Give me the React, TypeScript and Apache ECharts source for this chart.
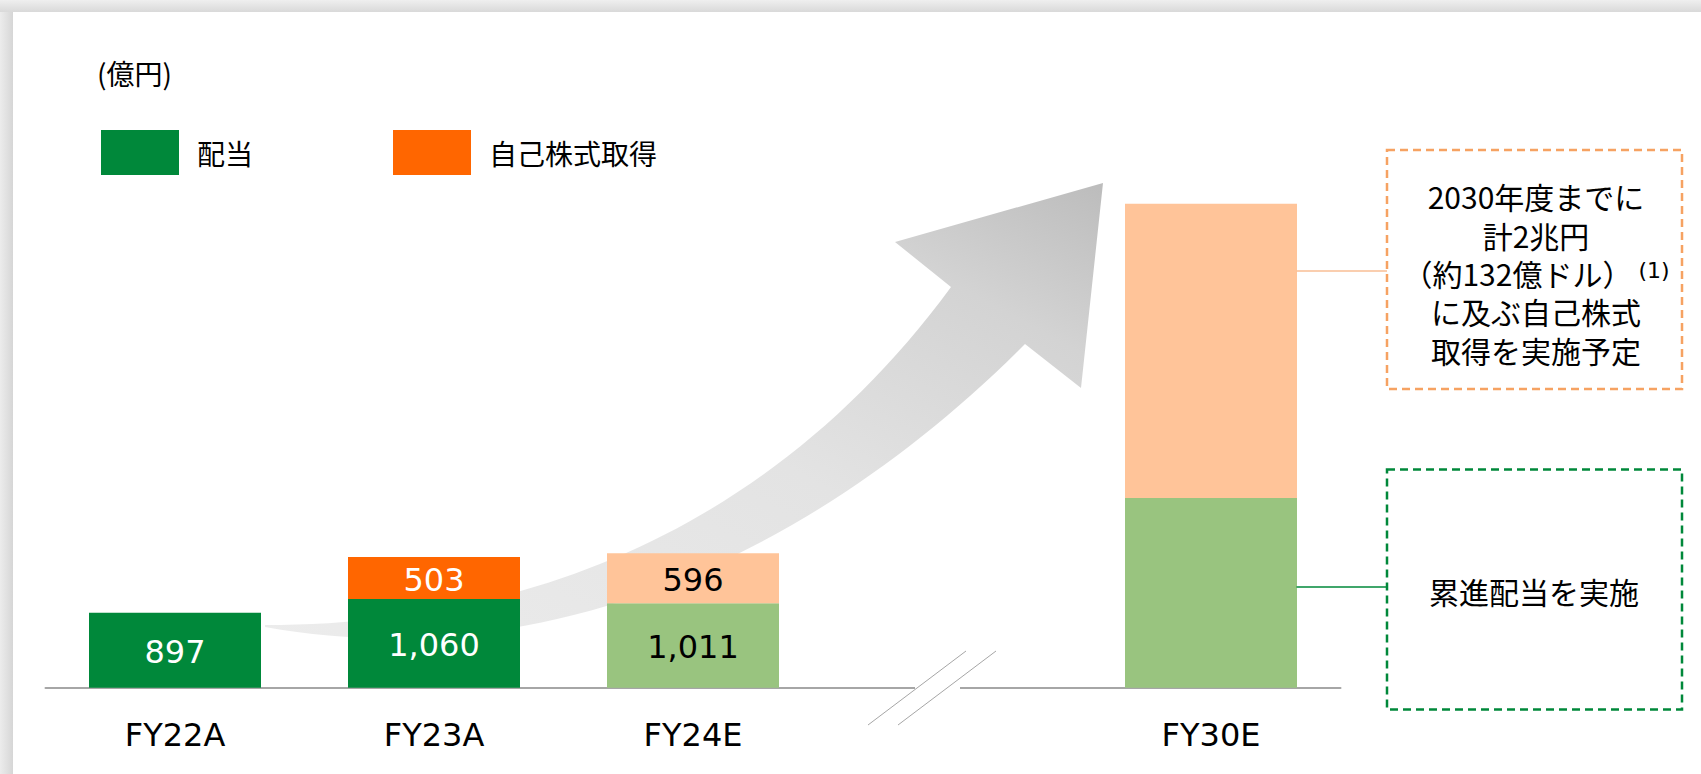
import React, { useEffect, useRef } from "react";
import * as echarts from "echarts";

// ---- data ----
const categories = ["FY22A", "FY23A", "FY24E", "", "FY30E"];
const dividends: (number | null)[] = [897, 1060, 1011, null, 2270];
const buybacks: (number | null)[] = [null, 503, 596, null, 3520];
const seriesNames = ["配当", "自己株式取得"];
const unlabeledCategories = ["FY30E"];
const unitLabel = "(億円)";
const buybackNoteLines = ["2030年度までに", "計2兆円", "（約132億ドル）{sup|(1)}", "に及ぶ自己株式", "取得を実施予定"];
const dividendNote = "累進配当を実施";

// ---- styles ----
const GREEN = "#00883A";
const LIGHT_GREEN = "#99C47F";
const ORANGE = "#FF6600";
const PEACH = "#FFC499";
const LATIN = "'DejaVu Sans', 'Noto Sans CJK JP', sans-serif";
const JP = "'Noto Sans CJK JP', sans-serif";

const ARROW_D =
  "M 265 625 C 540 625 780 520 951 287 L 895 242 L 1103 183 L 1081 388 L 1025 344 C 830 540 560 680 265 627 Z";

let registered = false;
function registerArrow() {
  if (registered) return;
  echarts.graphic.registerShape("growArrow", (echarts.graphic as any).extendPath(ARROW_D, {}));
  registered = true;
}

function buildItems(values: (number | null)[], dark: string, light: string) {
  return values.map((v, i) => {
    const cat = categories[i];
    const estimate = cat.endsWith("E");
    const showLabel = v != null && !unlabeledCategories.includes(cat);
    return {
      value: v,
      itemStyle: { color: estimate ? light : dark },
      label: {
        show: showLabel,
        color: estimate ? "#000000" : "#FFFFFF",
      },
    };
  });
}

export default function App() {
  const ref = useRef<HTMLDivElement>(null);

  useEffect(() => {
    if (!ref.current) return;
    registerArrow();
    const chart = echarts.init(ref.current, null, { renderer: "svg" });

    const barLabel = {
      position: "inside",
      fontSize: 32,
      fontFamily: LATIN,
      offset: [0, 2],
      formatter: (p: any) => Number(p.value).toLocaleString("en-US"),
    };

    const legendBase = {
      top: 130,
      padding: 0,
      itemWidth: 78,
      itemHeight: 45,
      icon: "rect",
      selectedMode: false,
      itemStyle: { borderWidth: 0 },
      textStyle: { fontSize: 28, fontFamily: JP, color: "#000", padding: [0, 0, 0, 13] },
    };

    chart.setOption({
      animation: false,
      backgroundColor: "#FFFFFF",
      legend: [
        { ...legendBase, left: 101, data: [seriesNames[0]] },
        { ...legendBase, left: 393, data: [seriesNames[1]] },
      ],
      grid: {
        left: 45.5,
        right: 360.5,
        top: 186.1,
        bottom: 86.3,
        containLabel: false,
        outerBoundsMode: "none",
      },
      xAxis: {
        type: "category",
        data: categories,
        axisLine: { show: true, lineStyle: { color: "#A6A6A6", width: 2 } },
        axisTick: { show: false },
        axisLabel: { fontSize: 32, fontFamily: LATIN, color: "#000", margin: 31 },
        splitLine: { show: false },
      },
      yAxis: {
        type: "value",
        min: 0,
        max: 6000,
        show: false,
        splitLine: { show: false },
      },
      series: [
        {
          name: seriesNames[0],
          type: "bar",
          stack: "total",
          barWidth: 172,
          color: GREEN,
          label: barLabel,
          data: buildItems(dividends, GREEN, LIGHT_GREEN),
        },
        {
          name: seriesNames[1],
          type: "bar",
          stack: "total",
          barWidth: 172,
          color: ORANGE,
          label: barLabel,
          data: buildItems(buybacks, ORANGE, PEACH),
        },
      ],
      graphic: [
        // frame shadow
        {
          type: "rect",
          z: 20,
          shape: { x: 0, y: 0, width: 1701, height: 12 },
          style: {
            fill: new echarts.graphic.LinearGradient(0, 0, 0, 1, [
              { offset: 0, color: "#EFEFEF" },
              { offset: 1, color: "#D9D9D9" },
            ]),
          },
        },
        {
          type: "rect",
          z: 20,
          shape: { x: 0, y: 12, width: 13, height: 762 },
          style: {
            fill: new echarts.graphic.LinearGradient(0, 0, 1, 0, [
              { offset: 0, color: "#ECECEC" },
              { offset: 1, color: "#D6D6D6" },
            ]),
          },
        },
        // growth arrow (behind bars)
        {
          type: "growArrow",
          z: 1,
          x: 0,
          y: 0,
          style: {
            fill: new echarts.graphic.LinearGradient(0, 1, 1, 0, [
              { offset: 0, color: "#ECECEC" },
              { offset: 0.5, color: "#E3E3E3" },
              { offset: 0.8, color: "#D3D3D3" },
              { offset: 1, color: "#BCBCBC" },
            ]),
          },
        },
        // unit
        {
          type: "text",
          x: 97,
          y: 73,
          style: { text: unitLabel, fontSize: 28, fontFamily: JP, fill: "#000", verticalAlign: "middle" },
        },
        // axis break
        {
          type: "rect",
          z: 10,
          shape: { x: 915, y: 683, width: 45, height: 10 },
          style: { fill: "#FFFFFF" },
        },
        {
          type: "line",
          z: 11,
          shape: { x1: 868, y1: 725, x2: 966, y2: 651 },
          style: { stroke: "#A6A6A6", lineWidth: 1 },
        },
        {
          type: "line",
          z: 11,
          shape: { x1: 898, y1: 725, x2: 996, y2: 651 },
          style: { stroke: "#A6A6A6", lineWidth: 1 },
        },
        // connectors
        {
          type: "line",
          z: 5,
          shape: { x1: 1296.5, y1: 271, x2: 1387, y2: 271 },
          style: { stroke: "#F8BE94", lineWidth: 1.5 },
        },
        {
          type: "line",
          z: 5,
          shape: { x1: 1296.5, y1: 587, x2: 1387, y2: 587 },
          style: { stroke: GREEN, lineWidth: 1.5 },
        },
        // annotation boxes
        {
          type: "rect",
          z: 5,
          shape: { x: 1387, y: 150, width: 295, height: 239 },
          style: { fill: "none", stroke: "#F6A262", lineWidth: 2.5, lineDash: [8, 5] },
        },
        {
          type: "rect",
          z: 5,
          shape: { x: 1387, y: 469.5, width: 295, height: 240 },
          style: { fill: "none", stroke: GREEN, lineWidth: 2.5, lineDash: [8, 5] },
        },
        {
          type: "text",
          z: 6,
          x: 1536,
          y: 273,
          style: {
            text: buybackNoteLines.join("\n"),
            fontSize: 30,
            lineHeight: 38.4,
            fontFamily: JP,
            fill: "#000",
            align: "center",
            verticalAlign: "middle",
            rich: {
              sup: {
                fontSize: 22,
                fontFamily: LATIN,
                fill: "#000",
                verticalAlign: "middle",
                padding: [0, 0, 5, 6],
              },
            },
          },
        },
        {
          type: "text",
          z: 6,
          x: 1534,
          y: 591,
          style: {
            text: dividendNote,
            fontSize: 30,
            fontFamily: JP,
            fill: "#000",
            align: "center",
            verticalAlign: "middle",
          },
        },
      ],
    });

    return () => {
      chart.dispose();
    };
  }, []);

  return (
    <div
      ref={ref}
      style={{ position: "fixed", left: 0, top: 0, width: 1701, height: 774, background: "#fff" }}
    />
  );
}
